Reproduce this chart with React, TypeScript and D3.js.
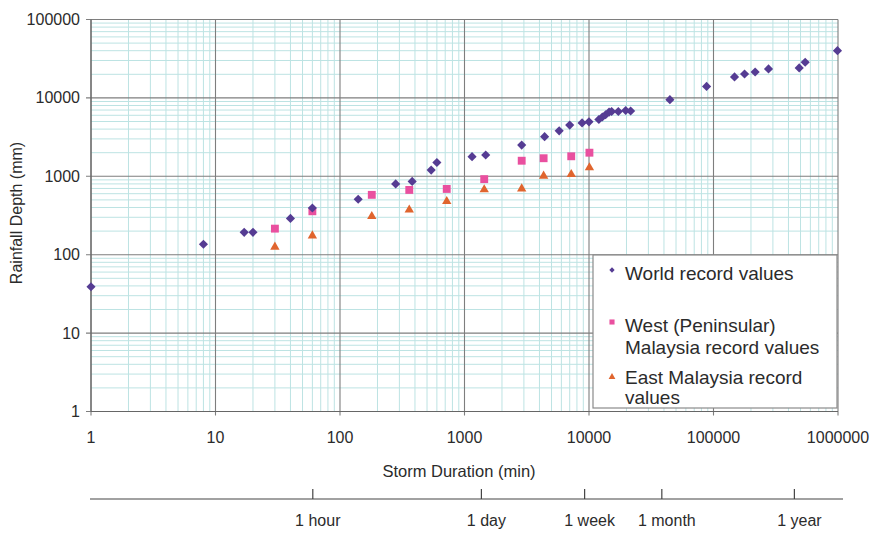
import React from "react";
import * as d3 from "d3";

// ---------- data ----------
const worldDuration = [1, 8, 17, 20, 40, 60, 140, 280, 380, 540, 600, 1150, 1480, 2880, 4400, 5760, 7000, 8800, 10000, 12000, 12800, 13600, 14500, 15200, 17200, 19700, 21600, 44640, 88000, 147500, 177600, 216000, 276600, 488000, 545000, 990000];
const worldDepth = [39, 136, 193, 193, 290, 394, 510, 800, 860, 1200, 1500, 1780, 1870, 2500, 3200, 3800, 4500, 4800, 4950, 5300, 5700, 6100, 6600, 6700, 6700, 6900, 6800, 9500, 14000, 18500, 20200, 21400, 23400, 24100, 28500, 40000];

const westDuration = [30, 60, 180, 360, 720, 1440, 2880, 4320, 7200, 10080];
const westDepth = [215, 358, 580, 670, 690, 920, 1580, 1700, 1800, 2000];

const eastDuration = [30, 60, 180, 360, 720, 1440, 2880, 4320, 7200, 10080];
const eastDepth = [129, 180, 318, 384, 493, 697, 714, 1040, 1092, 1327];

const xTickValues = [1, 10, 100, 1000, 10000, 100000, 1000000];
const yTickValues = [1, 10, 100, 1000, 10000, 100000];
const timeTickValues = [60, 1440, 10080, 43200, 525600];
const timeTickLabels = ["1 hour", "1 day", "1 week", "1 month", "1 year"];

const legendLabels = [
  ["World record values"],
  ["West (Peninsular)", "Malaysia record values"],
  ["East Malaysia record", "values"],
];

const xTitle = "Storm Duration (min)";
const yTitle = "Rainfall Depth (mm)";

// ---------- styles ----------
const FONT = "'Liberation Sans', Arial, Helvetica, sans-serif";
const C_WORLD = "#553c93";
const C_WEST = "#e9509f";
const C_EAST = "#e0652e";
const C_MAJOR = "#7e7e7e";
const C_MINOR = "#bde3e3";
const C_TEXT = "#2b2b2b";

export default function App() {
  const W = 872;
  const H = 533;
  const left = 91, right = 838, top = 19.5, bottom = 411.5;

  const x = d3.scaleLog().domain([1, 1e6]).range([left, right]);
  const y = d3.scaleLog().domain([1, 1e5]).range([bottom, top]);
  const t = d3.scaleLog().domain([1, 1e6]).range([95.6, 828.5]);

  const minorX = x.ticks().filter((v) => !xTickValues.includes(v));
  const minorY = y.ticks().filter((v) => !yTickValues.includes(v));

  const diamond = d3.symbol().type(d3.symbolSquare).size(42)()!;
  const square = d3.symbol().type(d3.symbolSquare).size(62)()!;
  const triangle = d3.symbol().type(d3.symbolTriangle).size(38)()!;
  const diamondSm = d3.symbol().type(d3.symbolSquare).size(14)()!;
  const squareSm = d3.symbol().type(d3.symbolSquare).size(26)()!;
  const triangleSm = d3.symbol().type(d3.symbolTriangle).size(20)()!;

  const lgX = 593, lgY = 255, lgW = 244, lgH = 153;
  const tAxisY = 499;

  return (
    <svg
      width={W}
      height={H}
      style={{ position: "absolute", left: 0, top: 0, background: "#fff" }}
      fontFamily={FONT}
    >
      <rect x={0} y={0} width={W} height={H} fill="#fff" />
      {/* minor grid */}
      <g stroke={C_MINOR} strokeWidth={1}>
        {minorX.map((v) => (
          <line key={"mx" + v} x1={x(v)} x2={x(v)} y1={top} y2={bottom} />
        ))}
        {minorY.map((v) => (
          <line key={"my" + v} x1={left} x2={right} y1={y(v)} y2={y(v)} />
        ))}
      </g>
      {/* major grid */}
      <g stroke={C_MAJOR} strokeWidth={1.1}>
        {xTickValues.map((v) => (
          <line key={"Mx" + v} x1={x(v)} x2={x(v)} y1={top} y2={bottom + 4} />
        ))}
        {yTickValues.map((v) => (
          <line key={"My" + v} x1={left - 5} x2={right} y1={y(v)} y2={y(v)} />
        ))}
      </g>
      <line x1={left} x2={left} y1={top} y2={bottom} stroke="#666" strokeWidth={1.2} />
      <line x1={left} x2={right} y1={bottom} y2={bottom} stroke="#666" strokeWidth={1.2} />

      {/* y tick labels */}
      <g fontSize={16} fill={C_TEXT} textAnchor="end">
        {yTickValues.map((v) => (
          <text key={"yl" + v} x={80} y={y(v) + 5.5}>
            {String(v)}
          </text>
        ))}
      </g>
      {/* x tick labels */}
      <g fontSize={16} fill={C_TEXT} textAnchor="middle">
        {xTickValues.map((v) => (
          <text key={"xl" + v} x={x(v)} y={443}>
            {String(v)}
          </text>
        ))}
      </g>
      <text x={459} y={477} fontSize={16.5} fill={C_TEXT} textAnchor="middle">
        {xTitle}
      </text>
      <text
        transform="translate(22,213) rotate(-90)"
        fontSize={16}
        fill={C_TEXT}
        textAnchor="middle"
      >
        {yTitle}
      </text>

      {/* data */}
      <g fill={C_EAST}>
        {eastDuration.map((d, i) => (
          <path key={"e" + i} d={triangle} transform={`translate(${x(d)},${y(eastDepth[i]) + 1})`} />
        ))}
      </g>
      <g fill={C_WEST}>
        {westDuration.map((d, i) => (
          <path key={"w" + i} d={square} transform={`translate(${x(d)},${y(westDepth[i])})`} />
        ))}
      </g>
      <g fill={C_WORLD}>
        {worldDuration.map((d, i) => (
          <path
            key={"r" + i}
            d={diamond}
            transform={`translate(${x(d)},${y(worldDepth[i])}) rotate(45)`}
          />
        ))}
      </g>

      {/* legend */}
      <rect x={lgX} y={lgY} width={lgW} height={lgH} fill="#fff" stroke="#8a8a8a" strokeWidth={1.2} />
      <path d={diamondSm} fill={C_WORLD} transform={`translate(612,270) rotate(45)`} />
      <path d={squareSm} fill={C_WEST} transform={`translate(612,322)`} />
      <path d={triangleSm} fill={C_EAST} transform={`translate(612,377)`} />
      <g fontSize={19} fill={C_TEXT}>
        <text x={625} y={280}>{legendLabels[0][0]}</text>
        <text x={625} y={332}>{legendLabels[1][0]}</text>
        <text x={625} y={354}>{legendLabels[1][1]}</text>
        <text x={625} y={384}>{legendLabels[2][0]}</text>
        <text x={625} y={404}>{legendLabels[2][1]}</text>
      </g>

      {/* time axis */}
      <line x1={90} x2={843} y1={tAxisY} y2={tAxisY} stroke="#444" strokeWidth={1.2} />
      {timeTickValues.map((v, i) => (
        <g key={"t" + v}>
          <line x1={t(v)} x2={t(v)} y1={tAxisY} y2={tAxisY - 10} stroke="#444" strokeWidth={1.2} />
          <text x={t(v) + 5} y={526} fontSize={16} fill={C_TEXT} textAnchor="middle">
            {timeTickLabels[i]}
          </text>
        </g>
      ))}
    </svg>
  );
}
